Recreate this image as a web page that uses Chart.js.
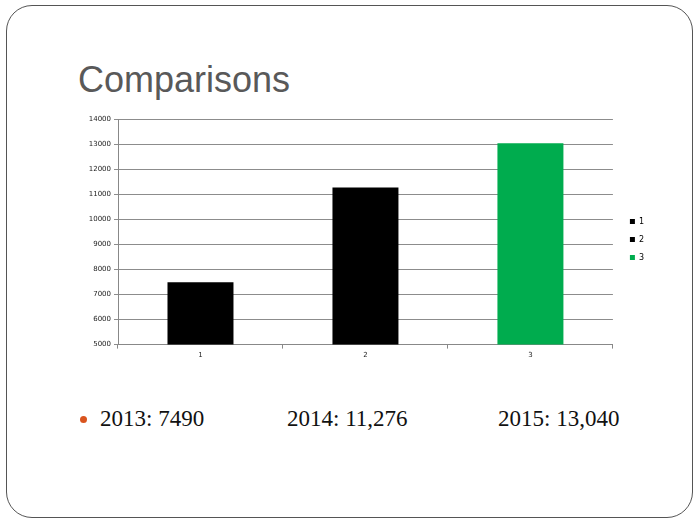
<!DOCTYPE html>
<html>
<head>
<meta charset="utf-8">
<script src="https://cdn.jsdelivr.net/npm/chart.js@4"></script>
<style>
  body { margin: 0; background: #fff; }
  #slide {
    position: absolute; left: 6px; top: 5px; width: 685px; height: 511px;
    border: 1.5px solid #555; border-radius: 26px; background: #fff;
  }
  #titre {
    position: absolute; left: 78px; top: 58px; margin: 0;
    font: 36px "Liberation Sans", Arial, sans-serif; color: #595959; line-height: 44px;
  }
  #boite {
    position: absolute; left: 70px; top: 112px; width: 591px; height: 249px;
  }
  #puces {
    position: absolute; top: 406px; left: 0; width: 700px; height: 30px;
    font: 23px "Liberation Serif", "Times New Roman", serif; color: #111;
  }
  #puces span { position: absolute; top: 0; white-space: nowrap; }
  .puce { width: 7px; height: 7px; border-radius: 50%; background: #d9541e; }
</style>
</head>
<body>
<div id="slide"></div>
<h1 id="titre">Comparisons</h1>
<div id="boite"><canvas id="monGraphique"></canvas></div>
<div id="puces">
  <span class="puce" style="left:80px; top:10px;"></span>
  <span style="left:100px;">2013: 7490</span>
  <span style="left:287px;">2014: 11,276</span>
  <span style="left:498px;">2015: 13,040</span>
</div>
<script>
// donnees
const categories = ['1', '2', '3'];
const valeurs = [7490, 11276, 13040];
const couleurs = ['#000000', '#000000', '#00ac4e'];
const yMin = 5000;
const yMax = 14000;
const yPas = 1000;

// elargir un peu la legende et la decaler vers la droite
const largeurLegende = {
  id: 'largeurLegende',
  beforeInit(chart) {
    const fitOrig = chart.legend.fit;
    chart.legend.fit = function () {
      fitOrig.bind(chart.legend)();
      this.width += 14;
    };
  },
  afterLayout(chart) {
    chart.legend.left += 7;
    chart.legend.right += 7;
  }
};

const ctx = document.getElementById('monGraphique').getContext('2d');
const monGraphique = new Chart(ctx, {
  type: 'bar',
  data: {
    labels: categories,
    datasets: [{
      label: 'Série 1',
      data: valeurs,
      backgroundColor: couleurs,
      borderWidth: 0,
      categoryPercentage: 0.8,
      barPercentage: 0.5
    }]
  },
  options: {
    responsive: true,
    maintainAspectRatio: false,
    animation: false,
    layout: { padding: { top: 6, right: 0, bottom: 0, left: 0 } },
    plugins: {
      tooltip: { enabled: false },
      legend: {
        position: 'right',
        labels: {
          boxWidth: 5,
          boxHeight: 5,
          padding: 10,
          color: '#222',
          font: { family: 'DejaVu Sans', size: 8 },
          // une entree par barre, comme dans Excel
          generateLabels: (chart) => categories.map((c, i) => ({
            text: c,
            fillStyle: couleurs[i],
            strokeStyle: couleurs[i],
            lineWidth: 0,
            hidden: false,
            index: i
          }))
        }
      }
    },
    scales: {
      x: {
        grid: { display: true, drawOnChartArea: false, offset: true, tickLength: 4, color: '#888' },
        border: { color: '#888' },
        ticks: { color: '#222', font: { family: 'DejaVu Sans', size: 7 }, padding: 2 }
      },
      y: {
        min: yMin,
        max: yMax,
        ticks: {
          stepSize: yPas,
          color: '#222',
          font: { family: 'DejaVu Sans', size: 7 },
          padding: 3,
          callback: (v) => String(v)
        },
        grid: { color: '#8c8c8c', tickLength: 4, lineWidth: 1 },
        border: { color: '#888' },
        afterFit: (axe) => { axe.width = 48; }
      }
    }
  },
  plugins: [largeurLegende]
});
</script>
</body>
</html>
